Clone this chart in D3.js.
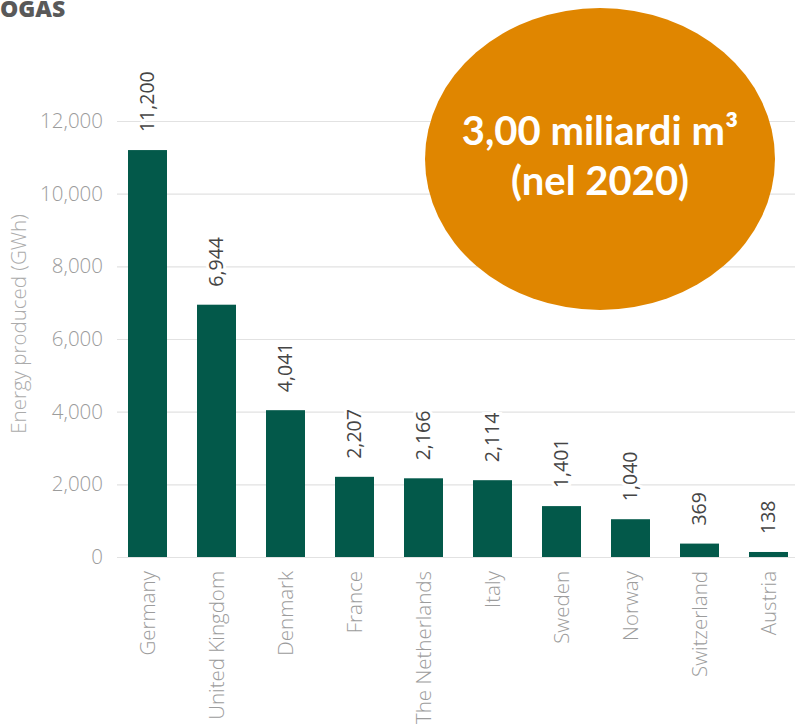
<!DOCTYPE html>
<html>
<head>
<meta charset="utf-8">
<script src="https://cdn.jsdelivr.net/npm/d3@7/dist/d3.min.js"></script>
<style>
  html, body { margin: 0; padding: 0; background: #fff; }
  svg { display: block; }
</style>
</head>
<body>
<svg id="chart" width="795" height="724"></svg>
<script>
// Biogas energy produced per country (GWh)
const countries = ["Germany", "United Kingdom", "Denmark", "France", "The Netherlands",
                   "Italy", "Sweden", "Norway", "Switzerland", "Austria"];
const energyGWh = [11200, 6944, 4041, 2207, 2166, 2114, 1401, 1040, 369, 138];
const yTicks = [0, 2000, 4000, 6000, 8000, 10000, 12000];
const titleText = "OGAS";
const yAxisTitle = "Energy produced (GWh)";
const badgeLines = ["3,00 miliardi m³", "(nel 2020)"];

const svg = d3.select("#chart");
const W = 795, H = 724;

const x = d3.scaleBand()
  .domain(countries)
  .range([113, 803])
  .paddingInner(0.435)
  .paddingOuter(0.2175);

const y = d3.scaleLinear()
  .domain([0, 12000])
  .range([557, 121]);

const fmt = d3.format(",");

// gridlines + tick labels
const yAxis = d3.axisLeft(y)
  .tickValues(yTicks)
  .tickFormat(fmt)
  .tickSize(-(W - 117))
  .tickPadding(14);

const gy = svg.append("g")
  .attr("transform", "translate(117,0)")
  .call(yAxis);
gy.select(".domain").remove();
gy.selectAll(".tick line")
  .attr("stroke", "#e2e2e2")
  .attr("stroke-width", 1.2);
gy.selectAll(".tick text")
  .attr("fill", "#9c9c9c")
  .style("font-family", "'Open Sans', sans-serif")
  .style("font-weight", 300)
  .style("font-size", "20.5px");

// y axis title
svg.append("text")
  .attr("transform", "translate(26,324) rotate(-90)")
  .attr("text-anchor", "middle")
  .attr("fill", "#ababab")
  .style("font-family", "'Open Sans', sans-serif")
  .style("font-weight", 300)
  .style("font-size", "20.5px")
  .text(yAxisTitle);

// bars
svg.append("g")
  .selectAll("rect")
  .data(countries)
  .join("rect")
  .attr("x", d => x(d))
  .attr("width", x.bandwidth())
  .attr("y", (d, i) => y(energyGWh[i]))
  .attr("height", (d, i) => y(0) - y(energyGWh[i]))
  .attr("fill", "#03594a");

// value labels above bars
svg.append("g")
  .selectAll("text")
  .data(countries)
  .join("text")
  .attr("transform", (d, i) =>
    `translate(${x(d) + x.bandwidth() / 2 + 6},${y(energyGWh[i]) - 18}) rotate(-90)`)
  .attr("text-anchor", "start")
  .attr("fill", "#454545")
  .attr("stroke", "#fff")
  .attr("stroke-width", 6)
  .attr("paint-order", "stroke")
  .style("font-family", "'Open Sans', sans-serif")
  .style("font-size", "19.5px")
  .text((d, i) => fmt(energyGWh[i]));

// category labels
svg.append("g")
  .selectAll("text")
  .data(countries)
  .join("text")
  .attr("transform", d =>
    `translate(${x(d) + x.bandwidth() / 2 + 7},${y(0) + 14}) rotate(-90)`)
  .attr("text-anchor", "end")
  .attr("fill", "#9c9c9c")
  .style("font-family", "'Open Sans', sans-serif")
  .style("font-weight", 300)
  .style("font-size", "20.5px")
  .text(d => d);

// title fragment at top-left
svg.append("text")
  .attr("x", 0)
  .attr("y", 17)
  .attr("fill", "#595959")
  .style("font-family", "'Open Sans', sans-serif")
  .style("font-weight", 800)
  .style("font-size", "23px")
  .text(titleText);

// orange badge
svg.append("ellipse")
  .attr("cx", 600)
  .attr("cy", 159)
  .attr("rx", 175)
  .attr("ry", 151)
  .attr("fill", "#e08600");

svg.append("g")
  .selectAll("text")
  .data(badgeLines)
  .join("text")
  .attr("x", 600)
  .attr("y", (d, i) => 145 + i * 50)
  .attr("text-anchor", "middle")
  .attr("fill", "#fff")
  .style("font-family", "Lato, 'Open Sans', sans-serif")
  .style("font-weight", 700)
  .style("font-size", "40px")
  .text(d => d);
</script>
</body>
</html>
